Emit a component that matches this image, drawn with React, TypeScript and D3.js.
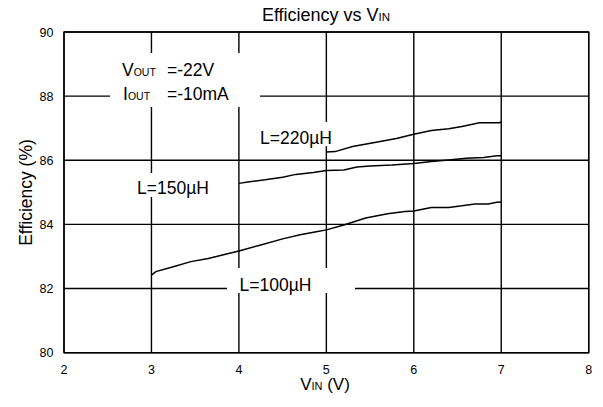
import React, { useEffect, useRef } from "react";
import * as d3 from "d3";

// efficiency curves
const vin100 = [3, 3.05, 3.25, 3.45, 3.65, 4, 4.25, 4.5, 4.7, 4.9, 5, 5.2, 5.45, 5.7, 5.9, 6, 6.2, 6.4, 6.55, 6.7, 6.85, 6.95, 7];
const eff100 = [82.42, 82.53, 82.68, 82.84, 82.94, 83.17, 83.36, 83.55, 83.68, 83.78, 83.83, 83.98, 84.2, 84.33, 84.4, 84.42, 84.53, 84.53, 84.58, 84.64, 84.64, 84.69, 84.7];

const vin150 = [4, 4.12, 4.3, 4.5, 4.65, 4.85, 5, 5.2, 5.35, 5.5, 5.75, 6, 6.2, 6.4, 6.6, 6.8, 6.95, 7];
const eff150 = [85.28, 85.33, 85.39, 85.47, 85.56, 85.62, 85.68, 85.7, 85.79, 85.82, 85.85, 85.9, 85.96, 86.01, 86.06, 86.09, 86.14, 86.14];

const vin220 = [5, 5.1, 5.3, 5.6, 5.8, 6, 6.2, 6.4, 6.55, 6.75, 6.9, 6.98, 7];
const eff220 = [86.26, 86.27, 86.43, 86.58, 86.68, 86.81, 86.93, 86.98, 87.05, 87.17, 87.17, 87.17, 87.2];

const xTicks = [2, 3, 4, 5, 6, 7, 8];
const yTicks = [80, 82, 84, 86, 88, 90];

const FONT = "'Liberation Sans', Arial, sans-serif";

const App = () => {
    const ref = useRef<SVGSVGElement>(null);

    useEffect(() => {
        if (!ref.current) return;
        const svg = d3.select(ref.current);
        svg.selectAll("*").remove();

        const x = d3.scaleLinear().domain([2, 8]).range([64, 588.7]);
        const y = d3.scaleLinear().domain([80, 90]).range([352.7, 32]);

        svg.append("rect").attr("width", 603).attr("height", 407).attr("fill", "#fff");

        const grid = svg.append("g").attr("stroke", "#000").attr("stroke-width", 1.4);
        grid.selectAll("line.v")
            .data(xTicks)
            .enter()
            .append("line")
            .attr("x1", (d) => x(d))
            .attr("x2", (d) => x(d))
            .attr("y1", y(90))
            .attr("y2", y(80));
        grid.selectAll("line.h")
            .data(yTicks)
            .enter()
            .append("line")
            .attr("x1", x(2))
            .attr("x2", x(8))
            .attr("y1", (d) => y(d))
            .attr("y2", (d) => y(d));

        // white boxes behind the labels cut the grid
        const boxes = [
            [110, 53, 150, 54],
            [128, 173, 87, 24],
            [255, 122, 82, 24],
            [227, 268, 128, 25],
        ];
        svg.selectAll("rect.mask")
            .data(boxes)
            .enter()
            .append("rect")
            .attr("x", (d) => d[0])
            .attr("y", (d) => d[1])
            .attr("width", (d) => d[2])
            .attr("height", (d) => d[3])
            .attr("fill", "#fff");

        // frame redrawn on top
        svg.append("rect")
            .attr("x", x(2))
            .attr("y", y(90))
            .attr("width", x(8) - x(2))
            .attr("height", y(80) - y(90))
            .attr("fill", "none")
            .attr("stroke", "#000")
            .attr("stroke-width", 1.4);

        const line = d3
            .line<[number, number]>()
            .x((d) => x(d[0]))
            .y((d) => y(d[1]));

        const series: [number[], number[]][] = [
            [vin100, eff100],
            [vin150, eff150],
            [vin220, eff220],
        ];
        series.forEach(([xs, ys]) => {
            svg.append("path")
                .datum(xs.map((v, i) => [v, ys[i]] as [number, number]))
                .attr("d", line)
                .attr("fill", "none")
                .attr("stroke", "#000")
                .attr("stroke-width", 1.5);
        });

        const txt = svg.append("g").attr("font-family", FONT).attr("fill", "#000");

        // tick labels
        txt.selectAll("text.yt")
            .data(yTicks)
            .enter()
            .append("text")
            .attr("x", 53.5)
            .attr("y", (d) => y(d) + 4.5)
            .attr("text-anchor", "end")
            .attr("font-size", 12.5)
            .text((d) => d);
        txt.selectAll("text.xt")
            .data(xTicks)
            .enter()
            .append("text")
            .attr("x", (d) => x(d))
            .attr("y", 373.5)
            .attr("text-anchor", "middle")
            .attr("font-size", 12.5)
            .text((d) => d);

        // title
        const title = txt.append("text")
            .attr("x", 326)
            .attr("y", 21)
            .attr("text-anchor", "middle")
            .attr("font-size", 18);
        title.append("tspan").text("Efficiency vs V");
        title.append("tspan").attr("font-size", 11.5).text("IN");

        // x axis label
        const xl = txt.append("text")
            .attr("x", 325)
            .attr("y", 390)
            .attr("text-anchor", "middle")
            .attr("font-size", 17);
        xl.append("tspan").text("V");
        xl.append("tspan").attr("font-size", 11).text("IN");
        xl.append("tspan").text(" (V)");

        // y axis label
        txt.append("text")
            .attr("transform", "translate(31.5,192.5) rotate(-90)")
            .attr("text-anchor", "middle")
            .attr("font-size", 17.5)
            .text("Efficiency (%)");

        // conditions
        const v = txt.append("text").attr("x", 122).attr("y", 76).attr("font-size", 17.5);
        v.append("tspan").text("V");
        v.append("tspan").attr("font-size", 10.5).text("OUT");
        txt.append("text").attr("x", 167).attr("y", 76).attr("font-size", 17.5).text("=-22V");
        const io = txt.append("text").attr("x", 123).attr("y", 99.5).attr("font-size", 17.5);
        io.append("tspan").text("I");
        io.append("tspan").attr("font-size", 10.5).text("OUT");
        txt.append("text").attr("x", 167).attr("y", 99.5).attr("font-size", 17.5).text("=-10mA");

        // curve labels
        const labels: [string, number, number][] = [
            ["L=220\u00b5H", 260, 143.5],
            ["L=150\u00b5H", 137, 194],
            ["L=100\u00b5H", 239.5, 291],
        ];
        txt.selectAll("text.cl")
            .data(labels)
            .enter()
            .append("text")
            .attr("x", (d) => d[1])
            .attr("y", (d) => d[2])
            .attr("font-size", 17.5)
            .text((d) => d[0]);
    }, []);

    return (
        <svg
            ref={ref}
            width={603}
            height={407}
            style={{ position: "absolute", left: 0, top: 0 }}
        />
    );
};

export default App;
